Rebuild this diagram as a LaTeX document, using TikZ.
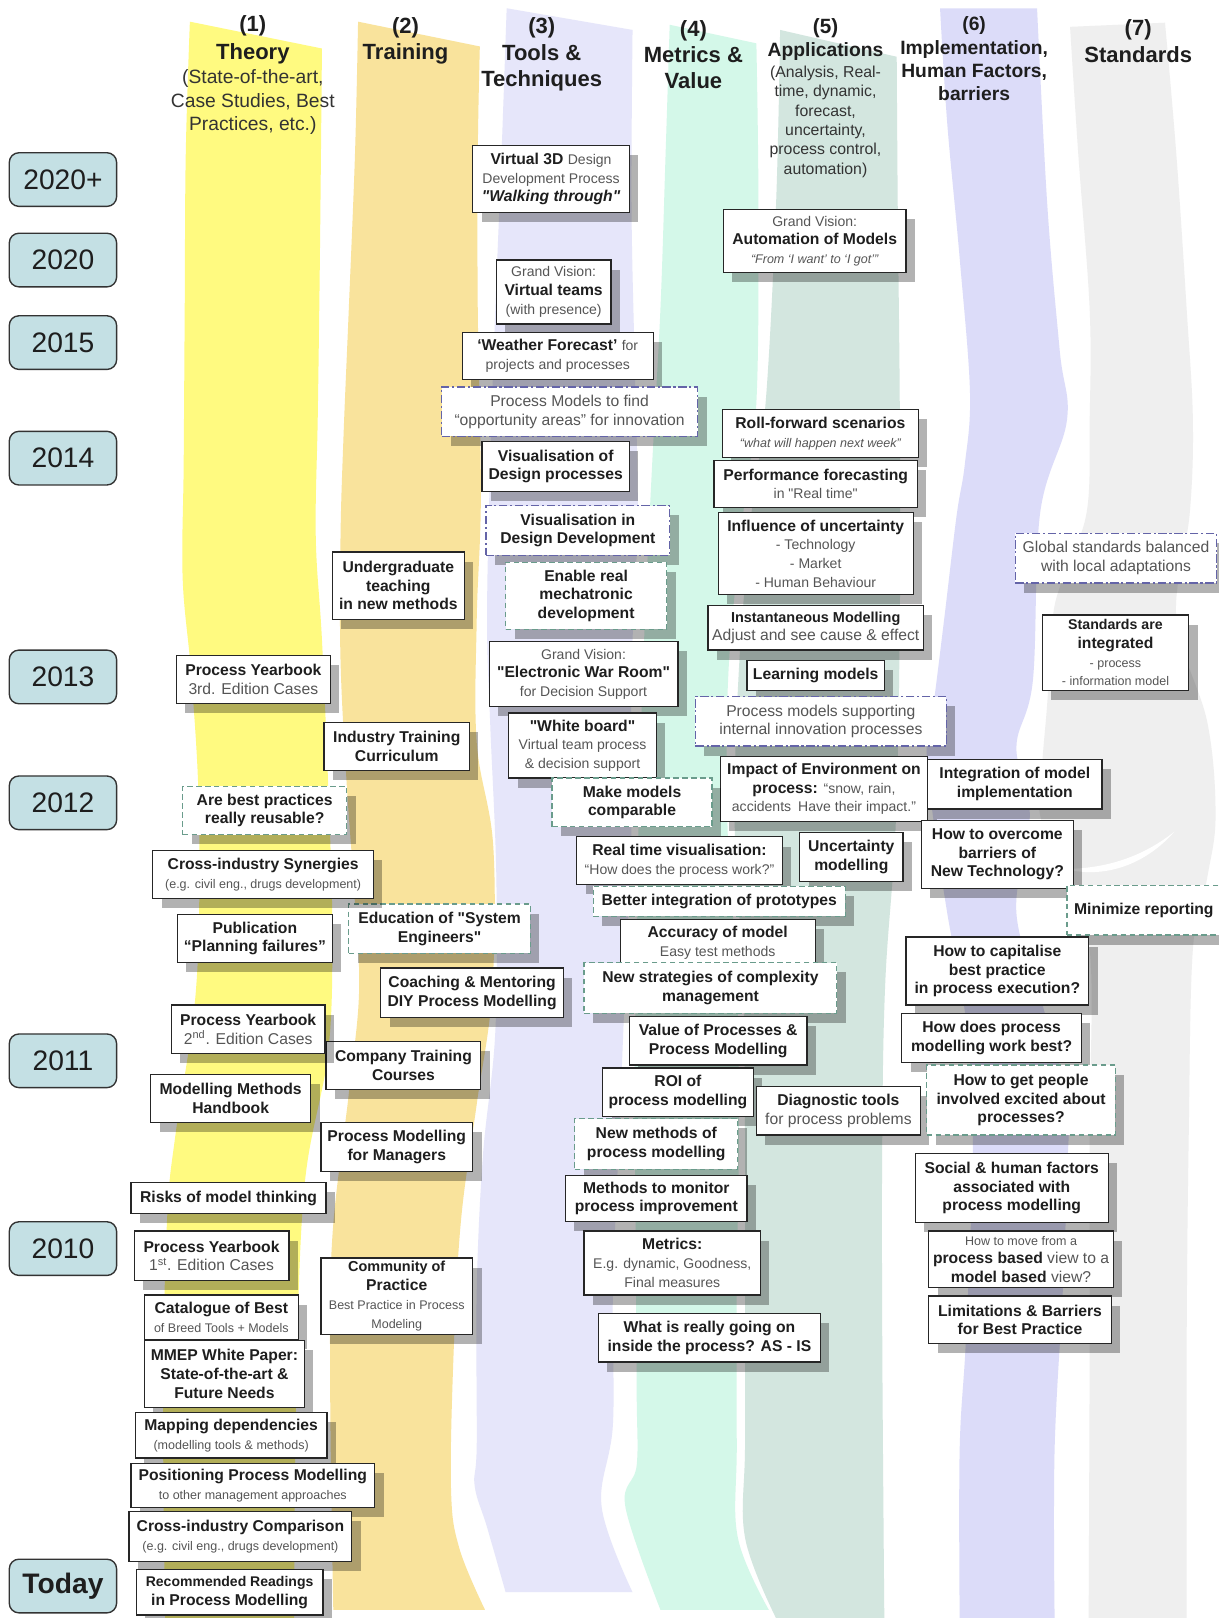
\documentclass[tikz,border=0pt]{standalone}
\usepackage{fontspec}
\setmainfont{Liberation Sans}[Ligatures=TeXOff]
\usetikzlibrary{shadows}
\definecolor{bandA}{HTML}{FFFA80}
\definecolor{bandB}{HTML}{F9E39C}
\definecolor{bandC}{HTML}{E6E6FA}
\definecolor{bandD}{HTML}{D4F8E9}
\definecolor{bandE}{HTML}{D3E6DF}
\definecolor{bandF}{HTML}{DCDCF9}
\definecolor{bandG}{HTML}{EFEFEF}
\definecolor{yearfill}{HTML}{C4E0E4}
\definecolor{tgray}{HTML}{555555}
\definecolor{tdark}{HTML}{1E1E1E}
\definecolor{dgreen}{HTML}{6A9C8C}
\definecolor{dblue}{HTML}{6464A8}
\newcommand\tgl[1]{{\mdseries\color{tgray}#1}}
\newcommand\tgm[1]{{\fontsize{10.2}{12}\selectfont\mdseries\color{tgray}#1}}
\newcommand\tgs[1]{{\fontsize{9.1}{11}\selectfont\mdseries\color{tgray}#1}}
\newcommand\mybox[7]{\node[#2, minimum width={(#5-#3)*0.75pt}, minimum height={(#6-#4)*0.75pt}] (#1) at ({(#3+#5)/2},{(#4+#6)/2}) {#7};}
\tikzset{
 sbox/.style={draw=black!85, line width=0.9pt, fill=white, align=center, inner xsep=3pt, inner ysep=2pt, text=tdark, font=\fontsize{11.4}{13.6}\selectfont\bfseries, drop shadow={shadow xshift=6.5pt, shadow yshift=-7pt, fill=black, opacity=0.3}},
 gbox/.style={sbox, draw=dgreen, dash pattern=on 4pt off 2.5pt},
 bbox/.style={sbox, draw=dblue, dash pattern=on 6pt off 2pt on 1.5pt off 2pt},
 yrbox/.style={draw=black!80, line width=1pt, rounded corners=7pt, fill=yearfill, minimum width=78pt, minimum height=39pt, font=\fontsize{20.5}{24}\selectfont, text=tdark},
 hd/.style={font=\fontsize{16}{19.2}\selectfont\bfseries, text=tdark, align=center},
 hsub/.style={font=\fontsize{14}{16.9}\selectfont, text=black!80, align=center}
}
\begin{document}
\begin{tikzpicture}[x=0.75pt,y=-0.75pt]
\useasboundingbox (0,0) rectangle (1181,1568);
\fill[white] (0,0) rectangle (1181,1568);
% ---------- bands ----------
\fill[bandA] plot[smooth,tension=0.6] coordinates {(184,21) (180,150) (179,300) (178,450) (177,560) (185,650) (192,760) (193,880) (188,980) (170,1100) (162,1180) (158,1350) (160,1568)}
 -- plot[smooth,tension=0.6] coordinates {(285,1568) (287,1350) (295,1150) (318,1020) (322,900) (318,760) (312,620) (306,520) (308,400) (310,250) (312,47)} -- cycle;
\fill[bandB] plot[smooth,tension=0.6] coordinates {(347,21) (344,150) (338,300) (333,420) (330,520) (330,640) (336,760) (343,860) (348,960) (338,1060) (322,1200) (320,1350) (323,1560)}
 -- plot[smooth,tension=0.6] coordinates {(470,1560) (445,1500) (437,1440) (440,1300) (447,1180) (462,1070) (477,960) (478,820) (462,720) (462,600) (466,480) (463,300) (463,150) (465,45)} -- cycle;
\fill[bandC] plot[smooth,tension=0.6] coordinates {(491,8) (486,150) (480,300) (475,450) (472,600) (475,700) (481,850) (480,1000) (468,1120) (462,1250) (462,1400) (460,1440) (472,1480) (490,1543)}
 -- plot[smooth,tension=0.6] coordinates {(613,1543) (583,1460) (594,1380) (594,1250) (600,1100) (606,950) (612,800) (612,650) (618,500) (615,350) (612,200) (613,29)} -- cycle;
\fill[bandD] plot[smooth,tension=0.6] coordinates {(649,24) (645,150) (640,300) (632,450) (625,600) (620,750) (617,900) (615,1050) (616,1200) (617,1350) (617,1420) (606,1460) (640,1560)}
 -- plot[smooth,tension=0.6] coordinates {(745,1560) (715,1490) (714,1400) (714,1250) (716,1100) (714,950) (705,800) (706,650) (720,500) (733,390) (735,200) (733,42)} -- cycle;
\fill[bandE] plot[smooth,tension=0.6] coordinates {(756,29) (752,200) (742,390) (728,500) (716,650) (712,800) (720,950) (722,1100) (722,1250) (722,1400) (722,1490) (752,1568)}
 -- plot[smooth,tension=0.6] coordinates {(857,1568) (855,1300) (855,1100) (858,950) (868,800) (872,600) (872,400) (870,200) (869,55)} -- cycle;
\fill[bandF] plot[smooth,tension=0.6] coordinates {(911,8) (918,120) (930,250) (940,380) (935,450) (927,500) (915,600) (905,680) (898,724) (904,790) (918,885) (935,980) (942,1066) (942,1150) (936,1300) (930,1405) (930,1568)}
 -- plot[smooth,tension=0.6] coordinates {(1022,1568) (1022,1405) (1030,1250) (1034,1140) (1034,1066) (1012,980) (985,885) (998,790) (985,724) (1001,659) (1008,497) (1034,407) (1027,340) (1015,200) (1005,8)} -- cycle;
\fill[bandG] plot[smooth,tension=0.6] coordinates {(1037,26) (1045,150) (1056,300) (1056,407) (1053,497) (1030,560) (1020,600) (1015,680) (1010,740) (1008,790) (1030,850) (1056,920) (1056,1100) (1056,1300) (1055,1568)}
 -- plot[smooth,tension=0.6] coordinates {(1150,1568) (1150,1300) (1152,1100) (1156,920) (1170,850) (1178,790) (1170,700) (1140,600) (1153,497) (1156,407) (1150,300) (1140,150) (1129,22)} -- cycle;
\fill[white] (1032,842) .. controls (1070,852) and (1110,838) .. (1138,806) .. controls (1108,830) and (1072,842) .. (1032,842) -- cycle;
% ---------- headers ----------
\node[hd] (h1n) at (245,25) {(1)};
\node[hd] (h1) at (245,52) {Theory};
\node[hsub] (h1s) at (245,99) {(State-of-the-art,\\Case Studies, Best\\Practices, etc.)};
\node[hd] (h2n) at (393,27) {(2)};
\node[hd] (h2) at (393,52) {Training};
\node[hd] (h3) at (525,53) {(3)\\Tools \&\\Techniques};
\node[hd] (h4) at (672,53) {(4)\\Metrics \&\\Value};
\node[hd, font=\fontsize{15}{18}\selectfont\bfseries] (h5n) at (800,27) {(5)};
\node[hd, font=\fontsize{14}{17}\selectfont\bfseries] (h5) at (800,50) {Applications};
\node[hsub, font=\fontsize{11.5}{14.1}\selectfont] (h5s) at (800,118) {(Analysis, Real-\\time, dynamic,\\forecast,\\uncertainty,\\process control,\\automation)};
\node[hd, font=\fontsize{14}{17}\selectfont\bfseries] (h6) at (944,57) {(6)\\Implementation,\\Human Factors,\\barriers};
\node[hd] (h7) at (1103,40) {(7)\\Standards};
% ---------- years ----------
\node[yrbox] (y2020p) at (61,174) {2020+};
\node[yrbox] (y2020) at (61,252) {2020};
\node[yrbox] (y2015) at (61,332) {2015};
\node[yrbox] (y2014) at (61,444) {2014};
\node[yrbox] (y2013) at (61,656) {2013};
\node[yrbox] (y2012) at (61,778) {2012};
\node[yrbox] (y2011) at (61,1028) {2011};
\node[yrbox] (y2010) at (61,1210) {2010};
\node[yrbox, font=\fontsize{20.5}{24}\selectfont\bfseries] (ytoday) at (61,1537) {Today};
% ---------- column 3 / 4 ----------
\mybox{v3d}{sbox}{458}{141}{610}{206}{Virtual 3D \tgm{Design}\\ \tgm{Development Process}\\ \itshape "Walking through"}
\mybox{auto}{sbox}{701}{203}{878}{264}{\tgm{Grand Vision:}\\ Automation of Models\\ \tgs{\itshape “From ‘I want’ to ‘I got’”}}
\mybox{vteams}{sbox}{481}{252}{592}{314}{\tgm{Grand Vision:}\\ Virtual teams\\ \tgm{(with presence)}}
\mybox{weather}{sbox}{448}{322}{633}{368}{‘Weather Forecast’ \tgm{for}\\ \tgm{projects and processes}}
\mybox{opp}{bbox}{428}{375}{676}{423}{\tgl{Process Models to find}\\ \tgl{“opportunity areas” for innovation}}
\mybox{visdes}{sbox}{467}{428}{610}{476}{Visualisation of\\ Design processes}
\mybox{visdev}{bbox}{471}{490}{649}{538}{Visualisation in\\ Design Development}
\mybox{mecha}{gbox}{490}{545}{646}{610}{Enable real\\ mechatronic\\ development}
\mybox{ewr}{sbox}{474}{622}{657}{685}{\tgm{Grand Vision:}\\ "Electronic War Room"\\ \tgm{for Decision Support}}
\mybox{wboard}{sbox}{493}{691}{636}{754}{"White board"\\ \tgm{Virtual team process}\\ \tgm{\& decision support}}
% ---------- column 5 ----------
\mybox{roll}{sbox}{700}{397}{890}{443}{Roll-forward scenarios\\ \tgs{\itshape “what will happen next week”}}
\mybox{perf}{sbox}{692}{446}{889}{492}{Performance forecasting\\ \tgm{in "Real time"}}
\mybox{infl}{sbox}{696}{497}{885}{576}{Influence of uncertainty\\ \tgm{- Technology}\\ \tgm{- Market}\\ \tgm{- Human Behaviour}}
\mybox{inst}{sbox}{691}{587}{890}{630}{\fontsize{10.5}{12.5}\selectfont Instantaneous Modelling\\ \tgl{Adjust and see cause \& effect}}
\mybox{learn}{sbox}{724}{640}{857}{669}{Learning models}
\mybox{innov}{bbox}{674}{675}{917}{723}{\tgl{Process models supporting}\\ \tgl{internal innovation processes}}
\mybox{env}{sbox}{698}{733}{899}{796}{Impact of Environment on\\ process: \tgm{“snow, rain,}\\ \tgm{accidents\enspace Have their impact.”}}
\mybox{compar}{gbox}{535}{754}{690}{801}{Make models\\ comparable}
\mybox{rtvis}{sbox}{559}{811}{758}{857}{Real time visualisation:\\ \tgm{“How does the process work?”}}
\mybox{uncmod}{sbox}{775}{807}{875}{854}{Uncertainty\\ modelling}
\mybox{proto}{gbox}{575}{859}{819}{888}{Better integration of prototypes}
\mybox{accur}{sbox}{601}{891}{790}{936}{Accuracy of model\\ \tgm{Easy test methods}}
\mybox{complex}{gbox}{566}{933}{811}{982}{New strategies of complexity\\ management}
\mybox{value}{sbox}{610}{985}{782}{1032}{Value of Processes \&\\ Process Modelling}
\mybox{roi}{sbox}{584}{1035}{730}{1082}{ROI of\\ process modelling}
\mybox{diag}{sbox}{733}{1053}{892}{1100}{Diagnostic tools\\ \tgl{for process problems}}
\mybox{newmeth}{gbox}{557}{1084}{715}{1133}{New methods of\\ process modelling}
\mybox{monitor}{sbox}{548}{1139}{724}{1184}{Methods to monitor\\ process improvement}
\mybox{metrics}{sbox}{566}{1193}{737}{1255}{Metrics:\\ \tgm{E.g. dynamic, Goodness,}\\ \tgm{Final measures}}
\mybox{asis}{sbox}{580}{1273}{795}{1320}{What is really going on\\ inside the process? AS - IS}
% ---------- column 6 ----------
\mybox{integ}{sbox}{899}{736}{1068}{784}{Integration of model\\ implementation}
\mybox{barr}{sbox}{893}{795}{1040}{861}{How to overcome\\ barriers of\\ New Technology?}
\mybox{minrep}{gbox}{1034}{858}{1183}{906}{Minimize reporting}
\mybox{capit}{sbox}{878}{908}{1055}{974}{How to capitalise\\ best practice\\ in process execution?}
\mybox{works}{sbox}{874}{982}{1048}{1030}{How does process\\ modelling work best?}
\mybox{excite}{gbox}{898}{1032}{1081}{1100}{How to get people\\ involved excited about\\ processes?}
\mybox{social}{sbox}{887}{1118}{1074}{1185}{Social \& human factors\\ associated with\\ process modelling}
\mybox{moveview}{sbox}{900}{1193}{1079}{1248}{\fontsize{9.1}{11}\selectfont\tgl{How to move from a}\\ process based \tgl{view to a}\\ model based \tgl{view?}}
\mybox{limits}{sbox}{900}{1256}{1077}{1302}{Limitations \& Barriers\\ for Best Practice}
% ---------- column 7 ----------
\mybox{globalstd}{bbox}{984}{517}{1179}{565}{\tgl{Global standards balanced}\\ \tgl{with local adaptations}}
\mybox{stdint}{sbox}{1010}{596}{1152}{669}{\fontsize{10.3}{12.5}\selectfont Standards are\\ integrated\\ \tgs{- process}\\ \tgs{- information model}}
% ---------- column 2 ----------
\mybox{ugrad}{sbox}{322}{535}{450}{600}{Undergraduate\\ teaching\\ in new methods}
\mybox{indtr}{sbox}{314}{700}{455}{747}{Industry Training\\ Curriculum}
\mybox{syseng}{gbox}{338}{876}{514}{924}{Education of "System\\ Engineers"}
\mybox{coach}{sbox}{369}{938}{546}{986}{Coaching \& Mentoring\\ DIY Process Modelling}
\mybox{company}{sbox}{316}{1009}{466}{1056}{Company Training\\ Courses}
\mybox{managers}{sbox}{311}{1088}{458}{1135}{Process Modelling\\ for Managers}
\mybox{community}{sbox}{311}{1219}{458}{1293}{\fontsize{10.5}{12.5}\selectfont Community of\\ Practice\\ \tgs{Best Practice in Process}\\ \tgs{Modeling}}
% ---------- column 1 ----------
\mybox{yb3}{sbox}{171}{635}{320}{682}{Process Yearbook\\ \tgl{3rd. Edition Cases}}
\mybox{reuse}{gbox}{177}{762}{336}{809}{Are best practices\\ really reusable?}
\mybox{synerg}{sbox}{148}{824}{362}{871}{Cross-industry Synergies\\ \tgs{(e.g. civil eng., drugs development)}}
\mybox{planfail}{sbox}{172}{886}{322}{933}{Publication\\ “Planning failures”}
\mybox{yb2}{sbox}{166}{974}{315}{1021}{Process Yearbook\\ \tgl{2\textsuperscript{nd}. Edition Cases}}
\mybox{handbook}{sbox}{146}{1041}{301}{1088}{Modelling Methods\\ Handbook}
\mybox{risks}{sbox}{127}{1146}{316}{1176}{Risks of model thinking}
\mybox{yb1}{sbox}{130}{1193}{280}{1241}{Process Yearbook\\ \tgl{1\textsuperscript{st}. Edition Cases}}
\mybox{catal}{sbox}{140}{1255}{289}{1298}{Catalogue of Best\\ \tgs{of Breed Tools + Models}}
\mybox{mmep}{sbox}{140}{1299}{295}{1364}{MMEP White Paper:\\ State-of-the-art \&\\ Future Needs}
\mybox{mapping}{sbox}{131}{1369}{317}{1413}{Mapping dependencies\\ \tgs{(modelling tools \& methods)}}
\mybox{position}{sbox}{127}{1418}{363}{1461}{Positioning Process Modelling\\ \tgs{to other management approaches}}
\mybox{compar2}{sbox}{125}{1465}{341}{1513}{Cross-industry Comparison\\ \tgs{(e.g. civil eng., drugs development)}}
\mybox{readings}{sbox}{132}{1521}{313}{1565}{\fontsize{10.2}{12.2}\selectfont Recommended Readings\\ in Process Modelling}
\end{tikzpicture}
\end{document}
